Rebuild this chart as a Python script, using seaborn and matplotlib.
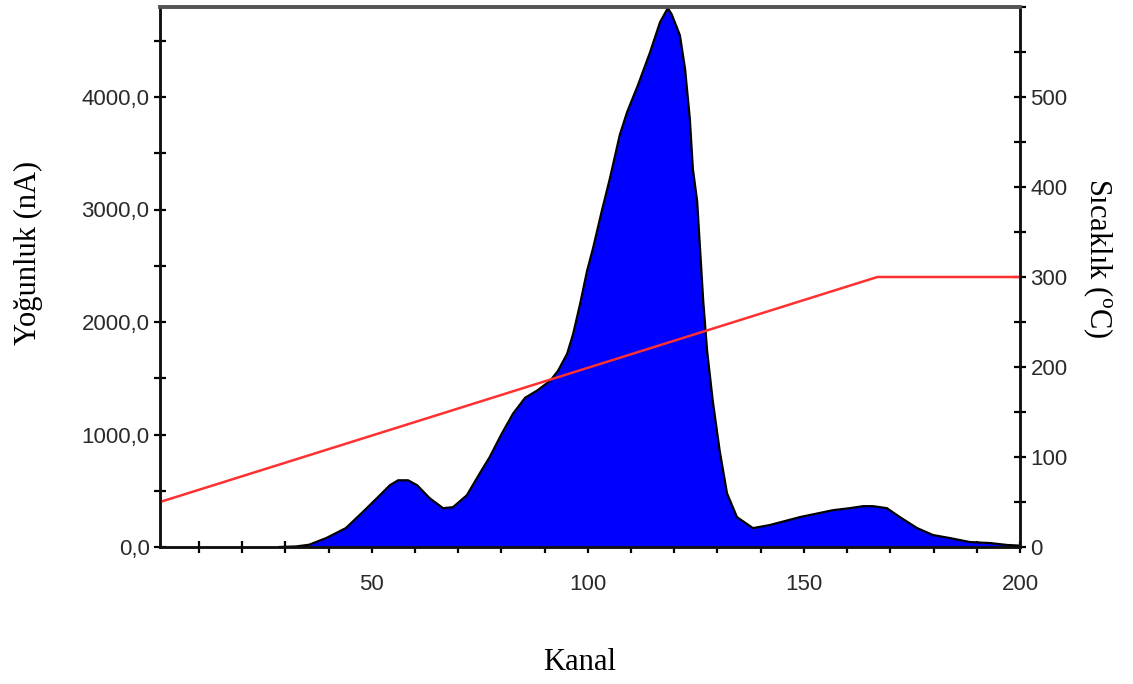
import matplotlib
matplotlib.use("Agg")
import matplotlib.pyplot as plt
from matplotlib.ticker import MultipleLocator, FixedLocator, FuncFormatter
import numpy as np
import pandas as pd
import seaborn as sns

# Detector intensity (nA) per channel
kanal = [28.5, 32.5, 35.5, 39.5, 44, 47.9, 51.2, 54.2, 56.1, 58.4, 60.5, 63.4, 66.5, 68.8,
         72, 75, 77.3, 80.1, 82.7, 85.5, 88.2, 91.3, 93.1, 95.2, 96.6, 98.2, 99.8,
         101.2, 103.2, 105.1, 107.4, 109.1, 111.6, 114.4, 116.7, 118.5, 119.4, 121.3,
         122.5, 123.6, 124.3, 125.3, 126.7, 127.6, 128.9, 130.5, 132.2, 134.5, 138.2,
         142.1, 149.1, 156.7, 160.6, 163.7, 166, 169.2, 172.2, 176.2, 179.9, 183.7,
         188.4, 193.1, 197, 200]
yogunluk = [0, 5, 20, 80, 168, 310, 434, 549, 593, 593, 549, 434, 345, 354,
            460, 655, 800, 1009, 1186, 1327, 1389, 1478, 1566, 1717, 1894, 2159, 2451,
            2655, 2982, 3275, 3664, 3867, 4106, 4398, 4664, 4790, 4735, 4549,
            4248, 3806, 3363, 3071, 2186, 1743, 1301, 858, 478, 266, 168,
            195, 266, 327, 345, 363, 363, 345, 266, 168, 106, 80,
            44, 35, 18, 12]

# Temperature ramp (°C) per channel
sicaklik_kanal = [1, 167, 200]
sicaklik = [50, 300, 300]

left_ticks = [0, 1000, 2000, 3000, 4000]
right_ticks = [0, 100, 200, 300, 400, 500]
x_ticks = [50, 100, 150, 200]

sns.set_style("ticks")
plt.rcParams["font.family"] = ["Liberation Sans", "DejaVu Sans"]
plt.rcParams["mathtext.fontset"] = "custom"
plt.rcParams["mathtext.rm"] = "Liberation Serif"

fig = plt.figure(figsize=(11.33, 6.84), dpi=100)
ax = fig.add_axes([160 / 1133, 137 / 684, 860 / 1133, 540 / 684])

df = pd.DataFrame({"kanal": kanal, "yogunluk": yogunluk})
ax.fill_between(df["kanal"], 0, df["yogunluk"], color="#0000ff", lw=0, zorder=2)
sns.lineplot(data=df, x="kanal", y="yogunluk", ax=ax, color="black", lw=1.6,
             zorder=3, estimator=None, sort=False)

ax.set_xlim(1, 200)
ax.set_ylim(0, 4800)
ax.xaxis.set_major_locator(FixedLocator(x_ticks))
ax.xaxis.set_minor_locator(MultipleLocator(10))
ax.yaxis.set_major_locator(FixedLocator(left_ticks))
ax.yaxis.set_minor_locator(MultipleLocator(500))
ax.yaxis.set_major_formatter(FuncFormatter(lambda v, p: f"{v:.1f}".replace(".", ",")))
ax.set_xlabel("")
ax.set_ylabel("")

tick_color = "#2a2a2a"
ax.tick_params(axis="both", which="both", direction="inout", length=9, width=1.6,
               color="black", labelsize=16, labelcolor=tick_color)
ax.tick_params(axis="x", which="both", pad=15)
ax.tick_params(axis="y", which="both", pad=3)

ax2 = ax.twinx()
tdf = pd.DataFrame({"kanal": sicaklik_kanal, "sicaklik": sicaklik})
sns.lineplot(data=tdf, x="kanal", y="sicaklik", ax=ax2, color="#ff3030", lw=1.8,
             estimator=None, sort=False)
ax2.set_ylim(0, 600)
ax2.yaxis.set_major_locator(FixedLocator(right_ticks))
ax2.yaxis.set_minor_locator(MultipleLocator(50))
ax2.tick_params(axis="y", which="both", direction="inout", length=9, width=1.6,
                color="black", labelsize=16, labelcolor=tick_color, pad=3)
ax2.set_ylabel("")
ax2.set_xlabel("")

for a in (ax, ax2):
    for side in ("left", "right", "bottom"):
        a.spines[side].set_color("#111111")
        a.spines[side].set_linewidth(1.8)
    a.spines["top"].set_color("#555555")
    a.spines["top"].set_linewidth(2.6)

serif = ["Liberation Serif", "DejaVu Serif"]
fig.text(28 / 1133, 1 - 253 / 684, "Yoğunluk (nA)", rotation=90, ha="center",
         va="center", fontsize=22, family=serif, color="black")
fig.text(1098 / 1133, 1 - 258 / 684, r"Sıcaklık ($^{\mathrm{o}}$C)", rotation=270,
         ha="center", va="center", fontsize=22, family=serif, color="black")
fig.text(580 / 1133, 1 - 663 / 684, "Kanal", ha="center", va="center",
         fontsize=22, family=serif, color="black")

fig.savefig("out.png", dpi=100)
